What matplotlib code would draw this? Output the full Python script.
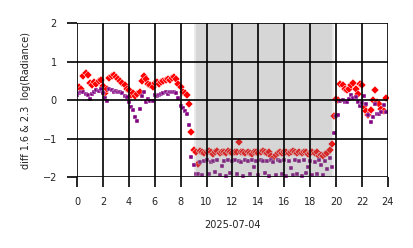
import numpy as np
import matplotlib
matplotlib.use("Agg")
from matplotlib import pyplot as plt

# 10 minute cadence over the day, 144 samples
hours = np.arange(144) / 6.0

diff16 = [
    # 00:00 - 08:50
    0.32, 0.35, 0.28, 0.62, 0.70, 0.66, 0.45, 0.40, 0.47, 0.42, 0.50, 0.52,
    0.36, 0.18, 0.30, 0.58, 0.62, 0.66, 0.60, 0.55, 0.50, 0.45, 0.38, 0.30,
    0.26, 0.12, 0.18, 0.10, 0.15, 0.20, 0.50, 0.62, 0.55, 0.42, 0.38, 0.35,
    0.45, 0.47, 0.43, 0.47, 0.50, 0.53, 0.55, 0.52, 0.58, 0.60, 0.55, 0.42,
    0.35, 0.22, 0.18, 0.12, -0.10, -0.82,
    # 09:00 - 19:50
    -1.30, -1.35, -1.65, -1.32, -1.36, -1.38,
    -1.34, -1.33, -1.36, -1.40, -1.35, -1.33, -1.37, -1.34, -1.36, -1.38, -1.33, -1.35,
    -1.37, -1.34, -1.36, -1.10, -1.34, -1.36, -1.38, -1.35, -1.37, -1.40, -1.36, -1.34,
    -1.37, -1.35, -1.33, -1.36, -1.38, -1.36, -1.45, -1.50, -1.42, -1.37, -1.35, -1.38,
    -1.36, -1.34, -1.37, -1.35, -1.33, -1.36, -1.38, -1.35, -1.37, -1.34, -1.36, -1.40,
    -1.38, -1.35, -1.37, -1.34,
    -1.44, -1.42, -1.46, -1.40, -1.38, -1.30, -1.15, -0.42,
    # 20:00 - 23:50
    0.02, 0.00, 0.42, 0.38, 0.30, 0.25, 0.30, 0.38, 0.45, 0.30, 0.15, 0.42,
    0.38, -0.15, -0.28, -0.38, -0.25, 0.00, 0.25, -0.05, -0.10, -0.22, -0.28, 0.05,
]

diff23 = [
    # 00:00 - 08:50
    0.12, 0.18, 0.20, 0.22, 0.15, 0.14, 0.02, 0.15, 0.22, 0.25, 0.24, 0.28,
    0.18, 0.05, -0.02, 0.28, 0.25, 0.22, 0.23, 0.20, 0.20, 0.18, 0.10, 0.08,
    -0.05, -0.18, -0.25, -0.45, -0.55, -0.22, 0.10, 0.22, -0.05, 0.02, -0.03, -0.02,
    0.12, 0.10, 0.13, 0.15, 0.18, 0.22, 0.16, 0.20, 0.22, 0.20, 0.18, 0.05,
    -0.15, -0.20, -0.28, -0.35, -0.65, -1.48,
    # 09:00 - 19:50
    -1.68, -1.92, -1.93, -1.60, -1.95, -1.57,
    -1.55, -1.92, -1.60, -1.58, -1.86, -1.56, -1.95, -1.70, -1.57, -1.97, -1.55, -1.90,
    -1.58, -1.56, -1.93, -1.57, -1.60, -1.96, -1.55, -1.58, -1.92, -1.56, -1.74, -1.57,
    -1.95, -1.55, -1.58, -1.90, -1.57, -1.98, -1.56, -1.60, -1.94, -1.55, -1.58, -1.92,
    -1.56, -1.96, -1.57, -1.77, -1.95, -1.55, -1.93, -1.58, -1.96, -1.56, -1.90, -1.73,
    -1.57, -1.95, -1.60, -1.92, -1.56,
    -1.68, -1.94, -1.58, -1.80, -1.50, -1.75, -0.85,
    # 20:00 - 23:50
    -0.42, -0.38, -0.02, 0.00, -0.05, -0.06, 0.02, 0.12, 0.05, 0.08, -0.05, -0.15,
    -0.08, 0.10, -0.10, -0.40, -0.56, -0.45, -0.10, -0.35, -0.35, -0.30, -0.12, -0.32,
]

night_outer = (9.03, 19.83)
night_inner = (9.18, 19.68)

fig = plt.figure(figsize=(4.14, 2.48), dpi=100)
ax = fig.add_axes([0.186, 0.286, 0.751, 0.621])

ax.plot(hours, diff16, ls='none', marker='D', ms=3.8, color='#ff0000',
        mec='white', mew=0.3, zorder=1)
ax.plot(hours, diff23, ls='none', marker='s', ms=3.2, color='#800080',
        mec='white', mew=0.3, zorder=1)

ax.axvspan(*night_outer, color='#808080', alpha=0.16, lw=0, zorder=2)
ax.axvspan(*night_inner, color='#808080', alpha=0.18, lw=0, zorder=2)

ax.set_xlim(0, 24)
ax.set_ylim(-2, 2)
ax.set_xticks([0, 2, 4, 6, 8, 10, 12, 14, 16, 18, 20, 22, 24])
ax.set_yticks([-2, -1, 0, 1, 2])
ax.set_axisbelow(False)
ax.grid(True, color='black', lw=1.2)
for s in ax.spines.values():
    s.set_visible(False)
ax.tick_params(axis='both', length=7.5, width=1.2, color='black', pad=7,
               labelsize=7, labelcolor='#222222')

ax.set_xlabel('2025-07-04', fontsize=7, labelpad=9, color='#222222')
ax.set_ylabel('diff 1.6 & 2.3  log(Radiance)', fontsize=7, labelpad=8,
              color='#222222')

fig.savefig('out.png', dpi=100)
